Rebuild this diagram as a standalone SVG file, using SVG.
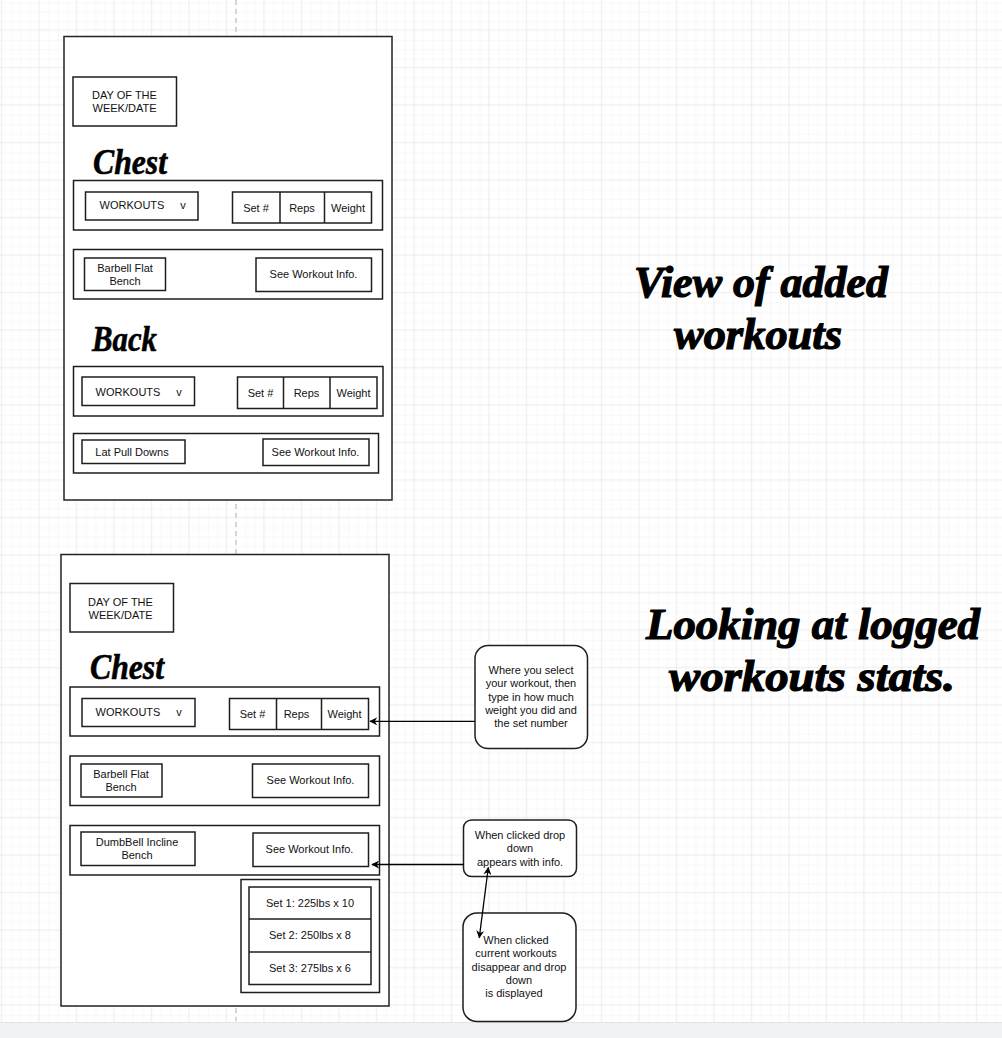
<svg xmlns="http://www.w3.org/2000/svg" width="1002" height="1038" viewBox="0 0 1002 1038">
  <style>
    .box { fill: #ffffff; stroke: #1e1e1e; stroke-width: 1.5; }
    .frame { fill: #ffffff; stroke: #222222; stroke-width: 1.5; }
    .t { font-family: "Liberation Sans", Arial, sans-serif; font-size: 11px; fill: #111111; text-anchor: middle; }
    .script { font-family: "Liberation Serif", "DejaVu Serif", serif; font-style: italic; font-weight: bold; fill: #000000; stroke: #000000; stroke-width: 0.6; }
    .title { font-family: "Liberation Serif", "DejaVu Serif", serif; font-style: italic; font-weight: bold; fill: #000000; stroke: #000000; stroke-width: 1.2; text-anchor: middle; }
    .conn { fill: none; stroke: #000000; stroke-width: 1.3; }
  </style>
  <defs>
    <pattern id="minor" x="0.8" y="29.3" width="9.375" height="9.375" patternUnits="userSpaceOnUse">
      <path d="M 0 0 L 9.375 0 M 0 0 L 0 9.375" fill="none" stroke="#f2f2f2" stroke-width="1"/>
    </pattern>
    <pattern id="major" x="0.8" y="29.3" width="37.5" height="37.5" patternUnits="userSpaceOnUse">
      <rect width="37.5" height="37.5" fill="url(#minor)"/>
      <path d="M 0 0 L 37.5 0 M 0 0 L 0 37.5" fill="none" stroke="#e3e3e3" stroke-width="1"/>
    </pattern>
    <marker id="arr" viewBox="0 0 10 10" refX="9" refY="5" markerWidth="8" markerHeight="8" markerUnits="userSpaceOnUse" orient="auto-start-reverse">
      <path d="M 0 0 L 10 5 L 0 10 L 3 5 Z" fill="#000000"/>
    </marker>
  </defs>

  <rect width="1002" height="1038" fill="#ffffff"/>
  <rect width="1002" height="1022" fill="url(#major)"/>
  <rect x="0" y="1022" width="1002" height="16" fill="#f1f2f4"/>
  <line x1="0" y1="1022.5" x2="1002" y2="1022.5" stroke="#e2e3e5" stroke-width="1"/>
  <line x1="236" y1="0" x2="236" y2="1021" stroke="#bdbdbd" stroke-width="1.2" stroke-dasharray="5 4"/>

  <!-- Frame 1 -->
  <g id="frame1">
    <rect class="frame" x="64" y="36.5" width="328" height="463.5"/>
  </g>
  <g id="date1">
    <rect class="box" x="73" y="77" width="103.5" height="49"/>
    <text class="t" x="124.5" y="99">DAY OF THE</text>
    <text class="t" x="124.5" y="112">WEEK/DATE</text>
  </g>
  <g id="chest1">
    <text class="script" x="93" y="174" font-size="36" textLength="74" lengthAdjust="spacingAndGlyphs">Chest</text>
  </g>
  <g id="row1">
    <rect class="box" x="73.5" y="180.5" width="309" height="49.5"/>
  </g>
  <g id="workouts1">
    <rect class="box" x="85.5" y="192" width="112.5" height="28"/>
    <text class="t" x="132" y="209">WORKOUTS</text>
    <text class="t" x="183" y="209">v</text>
  </g>
  <g id="sets1">
    <rect class="box" x="232.5" y="192" width="139" height="31"/>
    <line x1="280" y1="192" x2="280" y2="223" stroke="#1e1e1e" stroke-width="1.5"/>
    <line x1="324.5" y1="192" x2="324.5" y2="223" stroke="#1e1e1e" stroke-width="1.5"/>
    <text class="t" x="256" y="212">Set #</text>
    <text class="t" x="302" y="212">Reps</text>
    <text class="t" x="348" y="212">Weight</text>
  </g>
  <g id="row2">
    <rect class="box" x="73.5" y="249.5" width="309" height="49.5"/>
  </g>
  <g id="barbell1">
    <rect class="box" x="84.5" y="258" width="81" height="32.5"/>
    <text class="t" x="125" y="272">Barbell Flat</text>
    <text class="t" x="125" y="285">Bench</text>
  </g>
  <g id="info1">
    <rect class="box" x="256" y="258" width="115.5" height="33.5"/>
    <text class="t" x="313.5" y="278">See Workout Info.</text>
  </g>
  <g id="back1">
    <text class="script" x="92" y="351" font-size="36" textLength="65" lengthAdjust="spacingAndGlyphs">Back</text>
  </g>
  <g id="row3">
    <rect class="box" x="73.5" y="366.5" width="309.5" height="49.5"/>
  </g>
  <g id="workouts2">
    <rect class="box" x="82" y="377" width="112.5" height="28.5"/>
    <text class="t" x="128" y="396">WORKOUTS</text>
    <text class="t" x="179" y="396">v</text>
  </g>
  <g id="sets2">
    <rect class="box" x="237.5" y="377" width="139.5" height="31.5"/>
    <line x1="283.5" y1="377" x2="283.5" y2="408.5" stroke="#1e1e1e" stroke-width="1.5"/>
    <line x1="330" y1="377" x2="330" y2="408.5" stroke="#1e1e1e" stroke-width="1.5"/>
    <text class="t" x="260.5" y="397">Set #</text>
    <text class="t" x="306.5" y="397">Reps</text>
    <text class="t" x="353.5" y="397">Weight</text>
  </g>
  <g id="row4">
    <rect class="box" x="73.5" y="433.5" width="305" height="39.5"/>
  </g>
  <g id="latpull">
    <rect class="box" x="82" y="440" width="103" height="23.5"/>
    <text class="t" x="132" y="456">Lat Pull Downs</text>
  </g>
  <g id="info2">
    <rect class="box" x="263" y="439" width="106" height="26.5"/>
    <text class="t" x="315.5" y="456">See Workout Info.</text>
  </g>

  <!-- Frame 2 -->
  <g id="frame2">
    <rect class="frame" x="61" y="554.5" width="328" height="451.5"/>
  </g>
  <g id="date2">
    <rect class="box" x="70" y="583.5" width="103.5" height="48.5"/>
    <text class="t" x="120.5" y="606">DAY OF THE</text>
    <text class="t" x="120.5" y="619">WEEK/DATE</text>
  </g>
  <g id="chest2">
    <text class="script" x="90" y="679" font-size="36" textLength="74" lengthAdjust="spacingAndGlyphs">Chest</text>
  </g>
  <g id="row5">
    <rect class="box" x="70" y="687" width="309.5" height="49"/>
  </g>
  <g id="workouts3">
    <rect class="box" x="82" y="698.5" width="113" height="28"/>
    <text class="t" x="128" y="716">WORKOUTS</text>
    <text class="t" x="179" y="716">v</text>
  </g>
  <g id="sets3">
    <rect class="box" x="229.5" y="698.5" width="139" height="31"/>
    <line x1="276.5" y1="698.5" x2="276.5" y2="729.5" stroke="#1e1e1e" stroke-width="1.5"/>
    <line x1="321.5" y1="698.5" x2="321.5" y2="729.5" stroke="#1e1e1e" stroke-width="1.5"/>
    <text class="t" x="252.5" y="718">Set #</text>
    <text class="t" x="296.5" y="718">Reps</text>
    <text class="t" x="344.5" y="718">Weight</text>
  </g>
  <g id="row6">
    <rect class="box" x="70" y="756" width="309.5" height="49.5"/>
  </g>
  <g id="barbell2">
    <rect class="box" x="81" y="764" width="81" height="33"/>
    <text class="t" x="121" y="778">Barbell Flat</text>
    <text class="t" x="121" y="791">Bench</text>
  </g>
  <g id="info3">
    <rect class="box" x="252.5" y="764" width="116" height="33.5"/>
    <text class="t" x="310.5" y="784">See Workout Info.</text>
  </g>
  <g id="row7">
    <rect class="box" x="70" y="825.5" width="309.5" height="49.5"/>
  </g>
  <g id="dumbbell">
    <rect class="box" x="81" y="832" width="114" height="33.5"/>
    <text class="t" x="137" y="846">DumbBell Incline</text>
    <text class="t" x="137" y="859">Bench</text>
  </g>
  <g id="info4">
    <rect class="box" x="253" y="833" width="115.5" height="33.5"/>
    <text class="t" x="309.5" y="853">See Workout Info.</text>
  </g>
  <g id="setsdrop">
    <rect class="box" x="241" y="879.5" width="138.5" height="113"/>
    <rect class="box" x="249" y="887" width="122" height="97.5"/>
    <line x1="249" y1="919" x2="371" y2="919" stroke="#1e1e1e" stroke-width="1.5"/>
    <line x1="249" y1="952" x2="371" y2="952" stroke="#1e1e1e" stroke-width="1.5"/>
    <text class="t" x="310" y="907">Set 1: 225lbs x 10</text>
    <text class="t" x="310" y="939">Set 2: 250lbs x 8</text>
    <text class="t" x="310" y="972">Set 3: 275lbs x 6</text>
  </g>

  <!-- Titles -->
  <g id="title1">
    <text class="title" x="761" y="297" font-size="44" textLength="254" lengthAdjust="spacingAndGlyphs">View of added</text>
    <text class="title" x="758" y="349" font-size="44" textLength="168" lengthAdjust="spacingAndGlyphs">workouts</text>
  </g>
  <g id="title2">
    <text class="title" x="813" y="639" font-size="44" textLength="334" lengthAdjust="spacingAndGlyphs">Looking at logged</text>
    <text class="title" x="812" y="691" font-size="44" textLength="286" lengthAdjust="spacingAndGlyphs">workouts stats.</text>
  </g>

  <!-- Callouts -->
  <g id="callout1">
    <rect class="box" x="475" y="645.5" width="112.5" height="103" rx="13"/>
    <text class="t" x="531" y="674">Where you select</text>
    <text class="t" x="531" y="687">your workout, then</text>
    <text class="t" x="531" y="701">type in how much</text>
    <text class="t" x="531" y="714">weight you did and</text>
    <text class="t" x="531" y="727">the set number</text>
  </g>
  <g id="callout2">
    <rect class="box" x="463.5" y="820" width="113" height="56.5" rx="8"/>
    <text class="t" x="520" y="839">When clicked drop</text>
    <text class="t" x="520" y="852">down</text>
    <text class="t" x="520" y="866">appears with info.</text>
  </g>
  <g id="callout3">
    <rect class="box" x="463" y="913" width="113" height="108.5" rx="14"/>
    <text class="t" x="516" y="944">When clicked</text>
    <text class="t" x="516" y="957">current workouts</text>
    <text class="t" x="519" y="971">disappear and drop</text>
    <text class="t" x="519" y="984">down</text>
    <text class="t" x="514" y="997">is displayed</text>
  </g>

  <!-- Connectors -->
  <g id="connectors">
    <path class="conn" d="M 475 721.3 L 370 721.3" marker-end="url(#arr)"/>
    <path class="conn" d="M 463.5 864.5 L 372 864.5" marker-end="url(#arr)"/>
    <path class="conn" d="M 488.3 867.5 L 479.3 937.7" marker-start="url(#arr)" marker-end="url(#arr)"/>
  </g>
</svg>
